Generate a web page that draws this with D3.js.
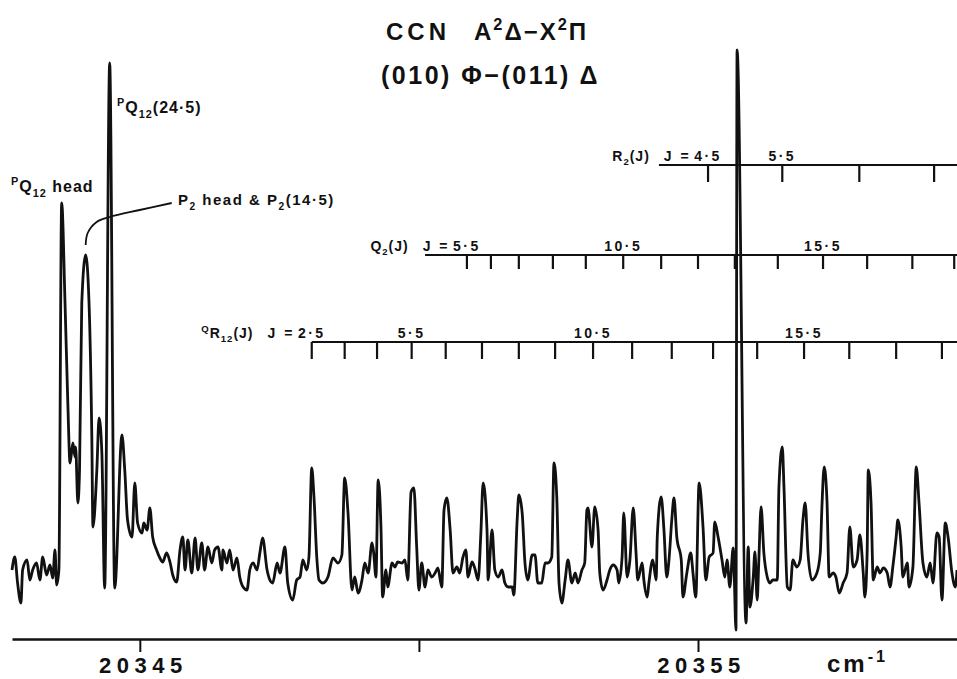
<!DOCTYPE html>
<html>
<head>
<meta charset="utf-8">
<script src="https://cdn.jsdelivr.net/npm/d3@7"></script>
<style>
  html, body { margin: 0; padding: 0; background: #fff; }
  svg { display: block; }
  text { font-family: "Liberation Sans", Arial, sans-serif; fill: #111; }
</style>
</head>
<body>
<div id="chart"></div>
<script>
// Spectrum trace: [wavenumber (cm-1), intensity (arb. units)]
const trace = [
  [20342.71,6],[20342.76,8.6],[20342.81,3.4],[20342.87,-0.6],[20342.90,6],[20342.98,8],[20343.03,4],[20343.08,6],
  [20343.15,7.4],[20343.21,4],[20343.26,8.6],[20343.33,5],[20343.39,7],[20343.44,4.4],[20343.48,10],[20343.51,3],
  [20343.55,6],[20343.60,79.4],[20343.66,59.4],[20343.71,39.4],[20343.75,27.4],[20343.80,31.4],[20343.84,28.6],
  [20343.85,30.6],[20343.89,19.4],[20343.92,26],[20343.96,59.4],[20344.03,69],[20344.09,59.4],[20344.14,32.6],
  [20344.16,14.6],[20344.23,26],[20344.27,36.4],[20344.32,29.4],[20344.37,2.4],[20344.46,107.4],[20344.55,2.4],
  [20344.68,33],[20344.73,26],[20344.78,16],[20344.86,12.6],[20344.91,23.4],[20344.96,15.4],[20345.04,13.4],
  [20345.07,15.4],[20345.13,14],[20345.18,18.4],[20345.23,12.6],[20345.30,10],[20345.36,8.4],[20345.41,7.6],
  [20345.48,9.4],[20345.54,7.6],[20345.59,5],[20345.66,3.6],[20345.72,10],[20345.77,12.6],[20345.81,6],
  [20345.86,12],[20345.93,5.4],[20345.99,12.4],[20346.04,6],[20346.11,11.4],[20346.16,6],[20346.22,10.6],
  [20346.29,7.4],[20346.34,10],[20346.40,10.6],[20346.47,6],[20346.49,10],[20346.56,7.4],[20346.61,10],
  [20346.67,6],[20346.74,8.4],[20346.79,4.6],[20346.85,2.6],[20346.92,2],[20346.97,6],[20347.03,7.4],
  [20347.10,6],[20347.15,9.4],[20347.20,12.4],[20347.28,6],[20347.33,4],[20347.38,3.4],[20347.46,7.4],
  [20347.51,5.4],[20347.60,10.6],[20347.65,3.4],[20347.74,0],[20347.81,4],[20347.87,4.6],[20347.92,8],
  [20347.99,6],[20348.03,8.6],[20348.08,26.4],[20348.12,20.6],[20348.17,8.6],[20348.21,4],[20348.28,3.4],
  [20348.37,4.6],[20348.46,8.4],[20348.55,7.4],[20348.62,9],[20348.67,24.4],[20348.73,17.4],[20348.80,2],
  [20348.85,4.6],[20348.91,1.4],[20348.98,4],[20349.03,7.4],[20349.09,5.4],[20349.16,11.4],[20349.19,9.4],
  [20349.23,4.6],[20349.27,24],[20349.32,14.6],[20349.35,0.6],[20349.41,6],[20349.44,2.6],[20349.52,7.4],
  [20349.57,6.6],[20349.62,7.6],[20349.70,7.4],[20349.75,8],[20349.80,4],[20349.86,21.6],[20349.91,22.4],
  [20349.96,10.6],[20350.00,2],[20350.05,7.4],[20350.11,2.6],[20350.16,6],[20350.23,4.6],[20350.29,5.4],
  [20350.34,6.4],[20350.41,2.6],[20350.45,18],[20350.50,20.4],[20350.56,14],[20350.61,5.4],[20350.68,6.6],
  [20350.73,5.4],[20350.79,8.6],[20350.84,10],[20350.88,4.6],[20350.95,7.6],[20351.00,6.4],[20351.06,4],
  [20351.11,13.4],[20351.15,23.4],[20351.22,14],[20351.24,4],[20351.31,14],[20351.36,6],[20351.42,4.6],
  [20351.49,6],[20351.54,3.4],[20351.60,2.6],[20351.67,2.6],[20351.70,1],[20351.76,16],[20351.79,21],
  [20351.85,17.4],[20351.90,7.4],[20351.95,4],[20352.03,9],[20352.08,9],[20352.13,3.4],[20352.20,3.4],
  [20352.26,7.4],[20352.31,7.4],[20352.38,8.6],[20352.42,27.4],[20352.47,20.6],[20352.51,3.4],[20352.56,-0.6],
  [20352.62,4],[20352.67,8],[20352.74,3.4],[20352.80,5.4],[20352.85,3.4],[20352.92,6],[20352.97,7.4],
  [20353.01,18],[20353.03,18.4],[20353.10,10.6],[20353.15,18.6],[20353.21,14],[20353.24,5.4],[20353.30,2],
  [20353.37,4],[20353.42,6],[20353.48,7],[20353.55,6],[20353.58,3.4],[20353.64,8.6],[20353.67,17.4],
  [20353.73,4.6],[20353.78,8],[20353.84,18.4],[20353.89,9.4],[20353.92,4],[20354.00,7.4],[20354.03,4],
  [20354.09,0.6],[20354.12,3.4],[20354.19,8],[20354.25,4],[20354.27,12.6],[20354.34,20.6],[20354.39,14],
  [20354.44,4.6],[20354.48,8],[20354.53,16],[20354.57,20.4],[20354.62,12.6],[20354.70,8],[20354.73,0.6],
  [20354.80,5.4],[20354.87,9.4],[20354.91,5.4],[20354.96,0.6],[20355.02,23.4],[20355.09,14.6],[20355.14,4],
  [20355.20,8.6],[20355.27,9.4],[20355.30,15.6],[20355.36,12.6],[20355.43,8],[20355.48,4.6],[20355.52,8],
  [20355.57,2.6],[20355.63,10.4],[20355.65,4.6],[20355.68,-6],[20355.70,110],[20355.86,-4.6],[20355.90,10.6],
  [20355.93,-1.4],[20355.99,4.6],[20356.02,9.6],[20356.06,0],[20356.09,8],[20356.13,18.6],[20356.18,9.4],
  [20356.24,4.6],[20356.29,3.4],[20356.34,4],[20356.42,4],[20356.45,22.6],[20356.51,30.6],[20356.54,22.6],
  [20356.60,2.6],[20356.65,2],[20356.70,8],[20356.77,6.6],[20356.83,8],[20356.88,16],[20356.92,19.4],
  [20356.97,9.4],[20357.04,4],[20357.13,5.4],[20357.19,9.4],[20357.22,18.6],[20357.26,26.6],[20357.31,20],
  [20357.35,4.6],[20357.42,5.4],[20357.47,4.6],[20357.53,1.4],[20357.60,3.4],[20357.67,5.4],[20357.72,14.6],
  [20357.78,6.6],[20357.85,8],[20357.90,13],[20357.96,5.4],[20357.99,0.6],[20358.03,9.4],[20358.05,26],
  [20358.10,19.4],[20358.14,4],[20358.21,6.6],[20358.26,5.4],[20358.32,6.4],[20358.39,5.4],[20358.44,2.6],
  [20358.49,6.6],[20358.55,12.6],[20358.58,16],[20358.64,10.6],[20358.67,4.6],[20358.75,7.4],[20358.78,2.6],
  [20358.85,6.6],[20358.91,26.6],[20358.96,19.4],[20359.03,7.4],[20359.10,4.6],[20359.16,7.4],[20359.21,3.4],
  [20359.28,13.4],[20359.32,12.6],[20359.37,0],[20359.43,15.4],[20359.48,12.6],[20359.55,5.4],[20359.61,2.6],
  [20359.64,6]
];

// Wavenumber axis
const axisTicks = [20345, 20350, 20355];
const axisLabels = ["20345", "", "20355"];

// R2(J) branch
const r2J = [4.5, 5.5, 6.5, 7.5];
const r2Pos = [20355.18, 20356.51, 20357.89, 20359.23];
const r2Labelled = [4.5, 5.5];
const r2Start = 20354.30;

// Q2(J) branch
const q2J = [5.5, 6.5, 7.5, 8.5, 9.5, 10.5, 11.5, 12.5, 13.5, 14.5, 15.5, 16.5, 17.5, 18.5];
const q2Pos = [20350.86, 20351.29, 20351.79, 20352.40, 20352.99, 20353.66, 20354.34,
               20355.00, 20355.66, 20356.43, 20357.24, 20358.03, 20358.84, 20359.59];
const q2Labelled = [5.5, 10.5, 15.5];
const q2Start = 20350.11;

// QR12(J) branch
const qr12J = [2.5, 3.5, 4.5, 5.5, 6.5, 7.5, 8.5, 9.5, 10.5, 11.5, 12.5, 13.5, 14.5, 15.5, 16.5, 17.5, 18.5];
const qr12Pos = [20348.08, 20348.67, 20349.25, 20349.87, 20350.48, 20351.13, 20351.79, 20352.44, 20353.12,
                 20353.82, 20354.53, 20355.27, 20356.06, 20356.90, 20357.71, 20358.55, 20359.37];
const qr12Labelled = [2.5, 5.5, 10.5, 15.5];
const qr12Start = 20348.08;

// P2 head peak that the leader line points to
const p2Head = [20344.03, 71];

const W = 957, H = 679;

const svg = d3.select("#chart")
    .append("svg")
    .attr("width", W)
    .attr("height", H);

const x = d3.scaleLinear()
    .domain(d3.extent(trace, d => d[0]))
    .range([12, W]);

const y = d3.scaleLinear()
    .domain([0, 100])
    .range([600, 100]);

// rich text helper: parts are [string, "sup"|"sub"|""]
function rich(sel, parts, size) {
    let shift = 0;
    parts.forEach(([s, kind]) => {
        const target = kind === "sup" ? -size * 0.42 : kind === "sub" ? size * 0.3 : 0;
        sel.append("tspan")
            .attr("dy", target - shift)
            .attr("font-size", kind ? size * 0.68 : size)
            .text(s);
        shift = target;
    });
    return sel;
}

// Trace
const line = d3.line()
    .x(d => x(d[0]))
    .y(d => y(d[1]))
    .curve(d3.curveMonotoneX);

svg.append("path")
    .datum(trace)
    .attr("d", line)
    .attr("fill", "none")
    .attr("stroke", "#111")
    .attr("stroke-width", 2.8)
    .attr("stroke-linejoin", "round");

// Bottom axis
const axis = svg.append("g")
    .attr("transform", "translate(0,639)")
    .call(d3.axisBottom(x)
        .tickValues(axisTicks)
        .tickFormat((d, i) => axisLabels[i])
        .tickSize(13)
        .tickSizeOuter(0)
        .tickPadding(5));

axis.select(".domain").attr("stroke", "#111").attr("stroke-width", 2.5);
axis.selectAll(".tick line").attr("stroke", "#111").attr("stroke-width", 2);
axis.selectAll(".tick text")
    .attr("fill", "#111")
    .attr("font-family", "Liberation Sans, Arial, sans-serif")
    .attr("font-size", 22)
    .attr("font-weight", "bold")
    .attr("letter-spacing", 5.5)
    .attr("dx", 3);

const unit = svg.append("text")
    .attr("x", 827).attr("y", 672)
    .attr("font-size", 24)
    .attr("font-weight", "bold")
    .attr("letter-spacing", 3);
rich(unit, [["cm", ""], ["-1", "sup"]], 24);

// Branch combs
function fmtJ(j) { return j.toFixed(1).replace(".", "·"); }

function comb(yLine, tickLen, start, pos, js, labelled, nameParts) {
    const g = svg.append("g");
    g.append("line")
        .attr("x1", x(start)).attr("x2", W)
        .attr("y1", yLine).attr("y2", yLine)
        .attr("stroke", "#111").attr("stroke-width", 2.2);
    g.selectAll(".tk")
        .data(pos)
        .enter().append("line")
        .attr("x1", d => x(d)).attr("x2", d => x(d))
        .attr("y1", yLine).attr("y2", yLine + tickLen)
        .attr("stroke", "#111").attr("stroke-width", 2.2);

    let firstBox = null;
    labelled.forEach((j, k) => {
        const t = g.append("text")
            .attr("x", x(pos[js.indexOf(j)]))
            .attr("y", yLine - 4)
            .attr("text-anchor", "middle")
            .attr("font-size", 14)
            .attr("font-weight", "bold")
            .attr("letter-spacing", 2.5)
            .text(fmtJ(j));
        if (k === 0) firstBox = t.node().getBBox();
    });

    const jt = g.append("text")
        .attr("x", firstBox.x - 3)
        .attr("y", yLine - 4)
        .attr("text-anchor", "end")
        .attr("font-size", 14)
        .attr("font-weight", "bold")
        .attr("letter-spacing", 2.5)
        .text("J =");
    const jb = jt.node().getBBox();

    const nt = g.append("text")
        .attr("x", jb.x - 14)
        .attr("y", yLine - 4)
        .attr("text-anchor", "end")
        .attr("font-weight", "bold")
        .attr("letter-spacing", 1);
    rich(nt, nameParts, 14);
}

comb(165, 17, r2Start, r2Pos, r2J, r2Labelled, [["R", ""], ["2", "sub"], ["(J)", ""]]);
comb(255, 14, q2Start, q2Pos, q2J, q2Labelled, [["Q", ""], ["2", "sub"], ["(J)", ""]]);
comb(342, 17, qr12Start, qr12Pos, qr12J, qr12Labelled, [["Q", "sup"], ["R", ""], ["12", "sub"], ["(J)", ""]]);

// Title
svg.append("text")
    .attr("x", 386).attr("y", 40)
    .attr("font-size", 24)
    .attr("font-weight", "bold")
    .attr("letter-spacing", 4)
    .text("CCN");

const t1 = svg.append("text")
    .attr("x", 474).attr("y", 40)
    .attr("font-weight", "bold")
    .attr("letter-spacing", 2);
rich(t1, [["A", ""], ["2", "sup"], ["Δ", ""], ["−", ""], ["X", ""], ["2", "sup"], ["Π", ""]], 24);

svg.append("text")
    .attr("x", 381).attr("y", 84)
    .attr("font-size", 25)
    .attr("font-weight", "bold")
    .attr("letter-spacing", 2.5)
    .text("(010) Φ−(011) Δ");

// Peak annotations
const a1 = svg.append("text")
    .attr("x", 11).attr("y", 192)
    .attr("font-weight", "bold")
    .attr("letter-spacing", 1);
rich(a1, [["P", "sup"], ["Q", ""], ["12", "sub"], [" head", ""]], 16);

const a2 = svg.append("text")
    .attr("x", 117).attr("y", 113)
    .attr("font-weight", "bold")
    .attr("letter-spacing", 1);
rich(a2, [["P", "sup"], ["Q", ""], ["12", "sub"], ["(24·5)", ""]], 16);

const a3 = svg.append("text")
    .attr("x", 178).attr("y", 205)
    .attr("font-weight", "bold")
    .attr("letter-spacing", 1.5);
rich(a3, [["P", ""], ["2", "sub"], [" head & P", ""], ["2", "sub"], ["(14·5)", ""]], 15);

// leader from the P2 head peak to its label
const px = x(p2Head[0]), py = y(p2Head[1]);
const leader = d3.line().curve(d3.curveCatmullRom);
svg.append("path")
    .attr("d", leader([[px, py], [px + 2, py - 12], [px + 11, py - 23], [px + 24, py - 28], [px + 54, py - 35], [px + 86, py - 42]]))
    .attr("fill", "none")
    .attr("stroke", "#111")
    .attr("stroke-width", 1.8);
</script>
</body>
</html>
